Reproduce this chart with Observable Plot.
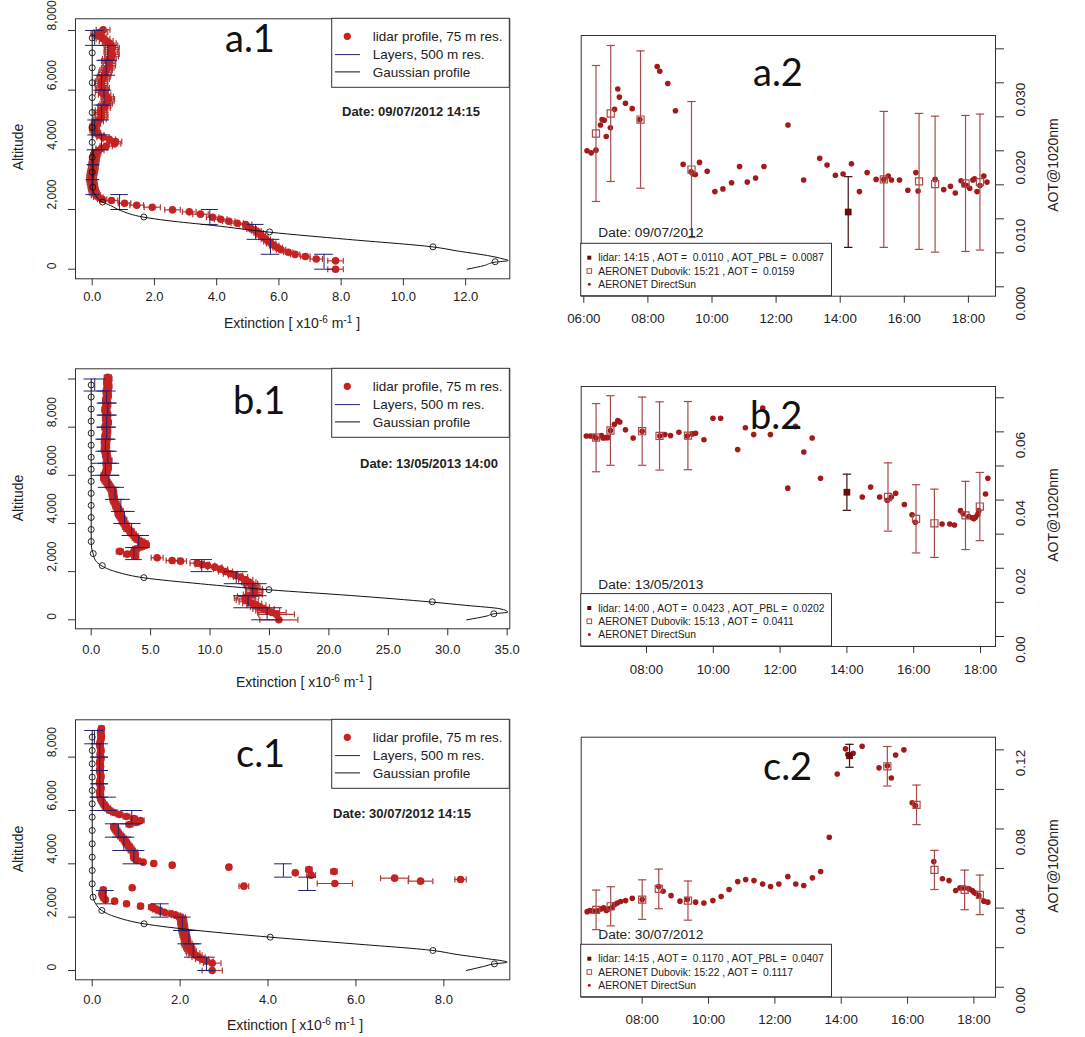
<!DOCTYPE html>
<html><head><meta charset="utf-8">
<script src="https://cdn.jsdelivr.net/npm/d3@7"></script>
<script src="https://cdn.jsdelivr.net/npm/@observablehq/plot@0.6"></script>
<style>
body{margin:0;background:#fff}
#root{position:relative;width:1085px;height:1037px;overflow:hidden;background:#fff;font-family:"Liberation Sans",Arial,sans-serif}
</style>
</head><body><div id="root"></div>
<script>
// ---------------- DATA ----------------
// lidar profiles: [altitude m, extinction x1e-6 m^-1, error]
const a1Lidar = [
[0,7.82,0.25],[280,7.82,0.25],[340,7.2,0.2],[425,6.85,0.15],[495,6.52,0.15],[570,6.3,0.15],[650,6.07,0.15],[720,5.96,0.15],[790,5.85,0.15],[860,5.75,0.15],[930,5.66,0.15],[1000,5.58,0.15],[1070,5.5,0.15],[1140,5.42,0.15],[1210,5.35,0.15],[1280,5.28,0.15],[1350,5.12,0.15],[1420,5.0,0.15],[1497,4.93,0.2],[1542,4.66,0.2],[1609,4.39,0.2],[1676,4.13,0.2],[1743,3.87,0.2],[1844,3.48,0.25],[1922,3.12,0.22],[1989,2.58,0.25],[2078,1.93,0.26],[2145,1.43,0.22],[2212,1.04,0.2],[2302,0.62,0.2],[2346,0.32,0.15],
[2410,0.2,0.15],[2480,0.12,0.15],[2550,0.08,0.15],[2625,0.05,0.15],[2700,0.03,0.15],[2775,0.02,0.15],[2850,0.01,0.15],[2925,-0.01,0.15],[3000,-0.02,0.15],[3075,-0.02,0.15],[3150,-0.01,0.15],[3225,0.0,0.15],[3300,0.02,0.15],[3375,0.03,0.15],[3450,0.04,0.15],[3525,0.05,0.15],[3600,0.06,0.15],[3675,0.07,0.15],[3750,0.08,0.15],[3825,0.1,0.15],[3900,0.13,0.15],[3975,0.2,0.18],[4050,0.3,0.18],[4125,0.45,0.2],[4200,0.72,0.2],[4275,0.75,0.2],[4350,0.55,0.2],[4425,0.35,0.2],[4500,0.2,0.18],[4575,0.12,0.15],[4650,0.08,0.15],[4725,0.06,0.15],[4800,0.08,0.15],[4875,0.12,0.15],[4950,0.18,0.18],[5025,0.25,0.2],[5100,0.3,0.2],[5175,0.3,0.2],[5250,0.26,0.2],[5325,0.3,0.2],[5400,0.38,0.2],[5475,0.4,0.2],[5550,0.45,0.2],[5625,0.5,0.2],[5700,0.52,0.2],[5775,0.48,0.2],[5850,0.4,0.2],[5925,0.3,0.2],[6000,0.32,0.2],[6075,0.35,0.2],[6150,0.3,0.2],[6225,0.28,0.2],[6300,0.3,0.2],[6375,0.35,0.2],[6450,0.38,0.2],[6525,0.4,0.2],[6600,0.42,0.2],[6675,0.45,0.2],[6750,0.5,0.2],[6825,0.55,0.2],[6900,0.55,0.2],[6975,0.5,0.2],[7050,0.55,0.22],[7125,0.62,0.22],[7200,0.65,0.22],[7275,0.6,0.22],[7350,0.62,0.22],[7425,0.65,0.22],[7500,0.6,0.22],[7575,0.55,0.22],[7650,0.45,0.22],[7725,0.35,0.22],[7800,0.25,0.22],[7875,0.18,0.22],[7950,0.28,0.22],[8025,0.35,0.22]
];
const b1Lidar = [
[0,15.79,1.6],[225,15.6,1.5],[300,15.2,1.2],[375,14.85,1.0],[450,14.5,0.9],[525,14.2,0.8],[600,13.9,0.8],[675,13.55,0.8],[750,13.25,0.8],[825,13.0,0.8],[900,12.95,0.9],[975,13.2,0.9],[1050,13.6,0.8],[1125,13.7,0.7],[1200,13.75,0.7],[1275,13.7,0.7],[1350,13.6,0.6],[1425,13.5,0.6],[1500,13.4,0.6],[1564,13.26,0.6],[1661,13.0,0.6],[1772,12.56,0.6],[1841,12.14,0.6],[1910,11.72,0.6],[2007,11.3,0.6],[2104,10.88,0.6],[2187,10.4,0.6],[2250,9.8,0.6],[2298,9.34,0.6],[2353,8.92,0.6],[2436,7.52,0.5],[2464,6.81,0.5],[2574,5.55,0.5],
[2650,3.7,0.3],[2727,3.03,0.3],[2800,3.6,0.3],[2840,2.41,0.3],[2875,3.7,0.3],[2950,3.8,0.3],[3025,4.2,0.3],[3100,4.6,0.3],[3175,4.5,0.3],[3250,4.2,0.3],[3325,3.9,0.3],[3400,3.75,0.3],[3475,3.65,0.3],[3550,3.5,0.3],[3625,3.35,0.3],[3700,3.3,0.3],[3775,3.05,0.3],[3850,2.95,0.3],[3925,2.9,0.3],[4000,2.8,0.3],[4075,2.65,0.3],[4150,2.7,0.3],[4225,2.55,0.3],[4300,2.45,0.3],[4375,2.35,0.3],[4450,2.3,0.3],[4525,2.4,0.3],[4600,2.25,0.3],[4675,2.15,0.3],[4750,2.1,0.3],[4825,2.05,0.3],[4900,1.95,0.3],[4975,1.9,0.3],[5050,1.9,0.3],[5125,1.85,0.3],[5200,1.8,0.3],[5275,1.85,0.3],[5350,1.8,0.3],[5425,1.7,0.3],[5500,1.6,0.3],[5575,1.5,0.3],[5650,1.4,0.3],[5725,1.3,0.3],[5800,1.2,0.3],[5875,1.1,0.3],[5950,1.1,0.3],[6025,1.15,0.3],[6100,1.25,0.3],
[6175,1.3,0.3],[6250,1.35,0.3],[6325,1.4,0.3],[6400,1.35,0.3],[6475,1.3,0.3],[6550,1.4,0.3],[6625,1.45,0.3],[6700,1.35,0.3],[6775,1.3,0.3],[6850,1.25,0.3],[6925,1.3,0.3],[7000,1.2,0.3],[7075,1.15,0.3],[7150,1.2,0.3],[7225,1.25,0.3],[7300,1.2,0.3],[7375,1.15,0.3],[7450,1.25,0.3],[7525,1.3,0.3],[7600,1.2,0.3],[7675,1.25,0.3],[7750,1.3,0.3],[7825,1.35,0.3],[7900,1.3,0.3],[7975,1.2,0.3],[8050,1.25,0.3],[8125,1.35,0.3],[8200,1.4,0.3],[8275,1.3,0.3],[8350,1.25,0.3],[8425,1.3,0.3],[8500,1.35,0.3],[8575,1.3,0.3],[8650,1.25,0.3],[8725,1.2,0.3],[8800,1.25,0.3],[8875,1.3,0.3],[8950,1.35,0.3],[9025,1.3,0.3],[9100,1.25,0.3],[9175,1.3,0.3],[9250,1.35,0.3],[9325,1.4,0.3],[9400,1.35,0.3],[9475,1.3,0.3],[9550,1.35,0.3],[9625,1.4,0.3],[9700,1.45,0.3],[9775,1.4,0.3],[9850,1.35,0.3],[9925,1.4,0.3],[10000,1.45,0.3],[10075,1.4,0.3]
];
const c1Lidar = [
[0,2.73,0.23],[275,2.73,0.2],[350,2.6,0.15],[425,2.5,0.15],[500,2.42,0.15],[575,2.35,0.15],[650,2.3,0.15],[725,2.25,0.12],[800,2.22,0.12],[875,2.2,0.12],[950,2.17,0.12],[1025,2.15,0.12],[1100,2.14,0.1],[1175,2.13,0.1],[1250,2.12,0.1],[1325,2.1,0.1],[1400,2.1,0.1],[1475,2.08,0.1],[1550,2.07,0.1],[1625,2.07,0.1],[1700,2.06,0.1],[1775,2.05,0.1],[1850,2.05,0.1],[1925,2.04,0.1],[2000,2.02,0.1],[2075,1.9,0.1],[2125,1.8,0.1],[2175,1.65,0.1],[2225,1.55,0.1],[2275,1.48,0.1],[2325,1.42,0.08],[2375,1.36,0.08],[2412,1.1,0.06],[2500,0.78,0.05],[2600,0.51,0.05],[2650,0.3,0.05],[2725,0.26,0.06],[2800,0.24,0.06],[2875,0.22,0.06],[2950,0.25,0.06],[3025,0.25,0.06],[3100,0.91,0.05],
[3162,3.45,0.11],[3262,5.52,0.4],[3350,7.47,0.28],[3412,8.38,0.13],[3462,6.88,0.32],[3575,4.98,0.1],[3662,4.62,0.05],[3712,5.5,0.07],[3787,4.93,0.07],[3875,3.11,0.05],[3950,1.82,0.05],[4012,1.4,0.05],[4062,1.16,0.05],
[4125,1.02,0.08],[4200,0.97,0.08],[4275,0.95,0.08],[4350,0.97,0.08],[4425,0.95,0.08],[4500,0.9,0.08],[4575,0.87,0.08],[4650,0.84,0.08],[4725,0.8,0.08],[4800,0.77,0.08],[4875,0.74,0.08],[4950,0.7,0.08],[5025,0.66,0.08],[5100,0.62,0.08],[5175,0.58,0.08],[5250,0.55,0.08],[5325,0.52,0.08],[5400,0.5,0.08],[5475,0.85,0.08],[5550,1.0,0.08],[5625,1.1,0.08],[5700,0.95,0.08],[5775,0.78,0.08],[5850,0.62,0.08],[5925,0.5,0.08],[6000,0.4,0.07],[6075,0.35,0.07],[6150,0.3,0.07],[6225,0.27,0.07],[6300,0.24,0.06],[6375,0.21,0.06],[6450,0.19,0.06],
[6525,0.18,0.06],[6600,0.19,0.06],[6675,0.17,0.06],[6750,0.18,0.06],[6825,0.2,0.06],[6900,0.19,0.06],[6975,0.18,0.06],[7050,0.17,0.06],[7125,0.18,0.06],[7200,0.19,0.06],[7275,0.2,0.06],[7350,0.19,0.06],[7425,0.18,0.06],[7500,0.17,0.06],[7575,0.18,0.06],[7650,0.19,0.06],[7725,0.18,0.06],[7800,0.17,0.06],[7875,0.18,0.06],[7950,0.2,0.06],[8025,0.19,0.06],[8100,0.18,0.06],[8175,0.19,0.06],[8250,0.2,0.06],[8325,0.19,0.06],[8400,0.18,0.06],[8475,0.17,0.06],[8550,0.18,0.06],[8625,0.19,0.06],[8700,0.2,0.06],[8775,0.21,0.06],[8850,0.2,0.06],[8925,0.19,0.06],[9000,0.2,0.06],[9075,0.21,0.06]
];
// 500 m layers: [bottom altitude, extinction, half-width of bar]
const a1Layers = [[0,7.45,0.3],[500,5.73,0.3],[1000,5.25,0.27],[1500,3.78,0.27],[2000,0.88,0.28],[2500,0.02,0.22],[3000,0.04,0.2],[3500,0.04,0.2],[4000,0.3,0.25],[4500,0.08,0.22],[5000,0.3,0.25],[5500,0.38,0.25],[6000,0.3,0.25],[6500,0.45,0.3],[7000,0.5,0.3],[7500,0.08,0.3]];
const b1Layers = [[0,14.8,1.3],[500,13.2,1.2],[1000,13.6,1.2],[1500,12.2,1.0],[2000,9.3,0.9],[2500,3.6,0.7],[3000,4.0,0.9],[3500,3.4,0.8],[4000,2.8,0.9],[4500,2.5,0.8],[5000,2.0,0.8],[5500,1.5,0.9],[6000,1.2,1.2],[6500,1.4,0.8],[7000,1.2,0.8],[7500,1.3,0.8],[8000,1.3,0.8],[8500,1.4,0.8],[9000,1.3,0.8],[9500,0.3,0.9]];
const c1Layers = [[0,2.6,0.2],[500,2.3,0.2],[1000,2.2,0.25],[1500,2.05,0.2],[2000,1.55,0.2],[2500,0.3,0.2],[3000,4.9,0.2],[3500,4.35,0.2],[4000,0.95,0.25],[4500,0.72,0.25],[5000,0.6,0.3],[5500,0.9,0.25],[6000,0.25,0.3],[6500,0.17,0.2],[7000,0.17,0.2],[7500,0.17,0.2],[8000,0.17,0.2],[8500,0.05,0.22]];
// Gaussian profile curve [altitude, extinction] and its markers
const a1Gauss = [[0,12.05],[123,12.6],[235,12.94],[290,13.37],[346,13.2],[458,12.7],[600,11.8],[746,10.95],[1000,8.2],[1240,5.7],[1464,3.9],[1631,2.4],[1743,1.66],[1966,0.91],[2134,0.59],[2250,0.33],[2469,0.11],[2637,0.02],[2750,0],[3000,0],[8000,0]];
const a1GaussPts = [[250,12.95],[750,10.95],[1250,5.7],[1750,1.66],[2250,0.33],[2750,0.02],[3250,0],[3750,0],[4250,0],[4750,0],[5250,0],[5750,0],[6250,0],[6750,0],[7250,0],[7750,0]];
const b1Gauss = [[0,31.6],[160,33.3],[249,33.88],[318,35.05],[457,34.4],[600,31.5],[734,28.7],[1010,21.8],[1246,14.95],[1495,9.2],[1744,4.43],[1979,2.19],[2228,0.93],[2464,0.36],[2740,0.17],[3000,0.03],[3250,0],[10000,0]];
const b1GaussPts = [[250,33.88],[750,28.7],[1250,14.95],[1750,4.43],[2250,0.93],[2750,0.17],[3250,0],[3750,0],[4250,0],[4750,0],[5250,0],[5750,0],[6250,0],[6750,0],[7250,0],[7750,0],[8250,0],[8750,0],[9250,0],[9750,0]];
const c1Gauss = [[0,8.51],[150,8.9],[250,9.15],[312,9.44],[450,8.95],[600,8.3],[750,7.75],[1000,5.95],[1250,4.05],[1500,2.4],[1750,1.18],[2000,0.55],[2250,0.22],[2500,0.08],[2750,0.02],[3000,0],[9000,0]];
const c1GaussPts = [[250,9.15],[750,7.75],[1250,4.05],[1750,1.18],[2250,0.22],[2750,0.02],[3250,0],[3750,0],[4250,0],[4750,0],[5250,0],[5750,0],[6250,0],[6750,0],[7250,0],[7750,0],[8250,0],[8750,0]];

// AERONET DirectSun: [hour of day, AOT@1020nm]
const a2Sun = [[6.10,0.0200],[6.23,0.0197],[6.38,0.0201],[6.52,0.0238],[6.57,0.0246],[6.64,0.0245],[6.70,0.0221],[6.83,0.0234],[6.96,0.0261],[7.06,0.0291],[7.11,0.0279],[7.30,0.0270],[7.51,0.0262],[7.75,0.0246],[8.29,0.0324],[8.37,0.0317],[8.62,0.0299],[8.86,0.0259],[9.10,0.0180],[9.35,0.0169],[9.41,0.0166],[9.48,0.0165],[9.61,0.0183],[9.85,0.0170],[10.09,0.0140],[10.34,0.0144],[10.61,0.0153],[10.86,0.0177],[11.10,0.0154],[11.36,0.0160],[11.62,0.0177],[12.37,0.0238],[12.86,0.0157],[13.36,0.0189],[13.59,0.0179],[13.85,0.0164],[14.09,0.0166],[14.35,0.0181],[14.60,0.0140],[14.84,0.0168],[15.12,0.0158],[15.36,0.0158],[15.50,0.0163],[15.60,0.0157],[15.85,0.0157],[16.11,0.0142],[16.36,0.0168],[16.43,0.0141],[16.96,0.0158],[17.23,0.0143],[17.44,0.0148],[17.59,0.0138],[17.77,0.0156],[17.86,0.0150],[17.94,0.0149],[18.04,0.0145],[18.14,0.0157],[18.19,0.0159],[18.27,0.0140],[18.36,0.0149],[18.48,0.0163],[18.58,0.0154]];
const b2Sun = [[6.20,0.0588],[6.32,0.0588],[6.42,0.0587],[6.49,0.0582],[6.65,0.0589],[6.70,0.0582],[6.77,0.0583],[6.84,0.0583],[6.92,0.0604],[7.04,0.0622],[7.14,0.0633],[7.20,0.0629],[7.37,0.0606],[7.60,0.0582],[7.87,0.0602],[8.40,0.0588],[8.55,0.0592],[8.72,0.0589],[8.97,0.0599],[9.22,0.0588],[9.37,0.0594],[9.47,0.0596],[9.72,0.0577],[9.99,0.0640],[10.22,0.0640],[10.73,0.0548],[10.96,0.0612],[11.21,0.0592],[11.48,0.0670],[11.71,0.0592],[12.23,0.0435],[12.46,0.0616],[12.71,0.0541],[12.96,0.0582],[13.21,0.0464],[14.46,0.0409],[14.71,0.0438],[14.98,0.0409],[15.21,0.0399],[15.33,0.0409],[15.46,0.0420],[15.72,0.0387],[15.95,0.0357],[16.05,0.0335],[16.85,0.0330],[17.08,0.0330],[17.22,0.0327],[17.40,0.0369],[17.48,0.0360],[17.65,0.0352],[17.75,0.0348],[17.80,0.0345],[17.85,0.0350],[17.92,0.0358],[17.95,0.0369],[18.15,0.0418],[18.22,0.0464]];
const c2Sun = [[6.34,0.0382],[6.42,0.0388],[6.49,0.0385],[6.56,0.0384],[6.64,0.0386],[6.76,0.0396],[6.84,0.0401],[6.92,0.0388],[6.99,0.0396],[7.10,0.0404],[7.17,0.0418],[7.25,0.0426],[7.35,0.0433],[7.50,0.0438],[7.70,0.0450],[8.00,0.0443],[8.50,0.0509],[8.63,0.0485],[8.87,0.0463],[9.14,0.0435],[9.36,0.0443],[9.61,0.0430],[9.86,0.0426],[10.13,0.0438],[10.38,0.0458],[10.62,0.0494],[10.88,0.0534],[11.12,0.0544],[11.37,0.0539],[11.63,0.0522],[11.87,0.0509],[12.12,0.0522],[12.39,0.0559],[12.63,0.0522],[12.87,0.0514],[13.13,0.0553],[13.38,0.0585],[13.64,0.0758],[13.88,0.1078],[14.13,0.1205],[14.20,0.1176],[14.36,0.1183],[14.63,0.1218],[15.14,0.1109],[15.39,0.1120],[15.51,0.1058],[15.64,0.1174],[15.89,0.1200],[16.14,0.0932],[16.24,0.0918],[16.79,0.0635],[17.05,0.0548],[17.25,0.0539],[17.45,0.0489],[17.58,0.0502],[17.70,0.0502],[17.85,0.0497],[17.95,0.0489],[18.00,0.0480],[18.05,0.0475],[18.15,0.0463],[18.30,0.0435],[18.42,0.0430]];
// AERONET Dubovik inversions: [hour, AOT, error]
const a2Dub = [[6.38,0.02255,0.0100],[6.84,0.02549,0.0100],[7.77,0.0246,0.0101],[9.36,0.01725,0.0100],[15.36,0.0158,0.0100],[16.46,0.0155,0.0100],[16.96,0.0151,0.0100],[17.91,0.0152,0.0100],[18.36,0.0154,0.0100]];
const b2Dub = [[6.49,0.0583,0.0100],[6.92,0.0604,0.0102],[7.87,0.0602,0.0100],[8.39,0.0588,0.0100],[9.24,0.0589,0.0100],[15.23,0.0409,0.0100],[16.07,0.0345,0.0100],[16.62,0.0332,0.0100],[17.55,0.0355,0.0100],[17.98,0.0381,0.0100]];
const c2Dub = [[6.61,0.0391,0.0100],[7.05,0.0409,0.0099],[8.00,0.0443,0.0100],[8.50,0.0497,0.0100],[9.38,0.0438,0.0099],[15.39,0.1117,0.0100],[16.27,0.0922,0.0100],[16.81,0.0593,0.0099],[17.72,0.0492,0.0100],[18.18,0.0467,0.0100]];
// lidar AOT: [hour, AOT, error]
const a2Lid = [[14.25,0.0110,0.0052]];
const b2Lid = [[14.00,0.0423,0.0053]];
const c2Lid = [[14.25,0.1170,0.0058]];

// ticks & labels
const a1XTicks = [0,2,4,6,8,10,12];
const b1XTicks = [0,5,10,15,20,25,30,35];
const c1XTicks = [0,2,4,6,8];
const a1YTicks = [0,2000,4000,6000,8000];
const b1YTicks = [0,2000,4000,6000,8000,10000];
const b1YLabels = [0,2000,4000,6000,8000];
const c1YTicks = [0,2000,4000,6000,8000];
const a2TimeTicks = [6,8,10,12,14,16,18];
const a2TimeLabels = ["06:00","08:00","10:00","12:00","14:00","16:00","18:00"];
const bcTimeTicks = [8,10,12,14,16,18];
const bcTimeLabels = ["08:00","10:00","12:00","14:00","16:00","18:00"];
const a2YTicks = [0,0.005,0.010,0.015,0.020,0.025,0.030,0.035];
const a2YLabels = [0,0.010,0.020,0.030];
const b2YTicks = [0,0.01,0.02,0.03,0.04,0.05,0.06,0.07];
const b2YLabels = [0,0.02,0.04,0.06];
const c2YTicks = [0,0.02,0.04,0.06,0.08,0.10,0.12];
const c2YLabels = [0,0.04,0.08,0.12];

const profileLegend = ["lidar profile, 75 m res.", "Layers, 500 m res.", "Gaussian profile"];
const a2Legend = ["lidar: 14:15 , AOT =  0.0110 , AOT_PBL =  0.0087", "AERONET Dubovik: 15:21 , AOT =  0.0159", "AERONET DirectSun"];
const b2Legend = ["lidar: 14:00 , AOT =  0.0423 , AOT_PBL =  0.0202", "AERONET Dubovik: 15:13 , AOT =  0.0411", "AERONET DirectSun"];
const c2Legend = ["lidar: 14:15 , AOT =  0.1170 , AOT_PBL =  0.0407", "AERONET Dubovik: 15:22 , AOT =  0.1117", "AERONET DirectSun"];
const profileDates = ["Date: 09/07/2012 14:15", "Date: 13/05/2013 14:00", "Date: 30/07/2012 14:15"];
const seriesDates = ["Date: 09/07/2012", "Date: 13/05/2013", "Date: 30/07/2012"];
const panelNames = ["a.1","a.2","b.1","b.2","c.1","c.2"];

// ---------------- RENDER ----------------
const W = 1085, H = 1037;
const FONT = "'Liberation Sans', Arial, sans-serif";
const COL = {dot:"#c62222", bar:"#b03838", navy:"#20206e", sun:"#a31a1a", dub:"#a84a4a", lid:"#6a0a0a", lidBar:"#3a1010", axis:"#333", text:"#222"};
const vcap = {draw(ctx, size){const r=Math.sqrt(size/Math.PI); ctx.moveTo(0,-r); ctx.lineTo(0,r);}};
const hcap = {draw(ctx, size){const r=Math.sqrt(size/Math.PI); ctx.moveTo(-r,0); ctx.lineTo(r,0);}};
const root = document.getElementById("root");
const svgStyle = {position:"absolute", left:"0px", top:"0px", background:"transparent", overflow:"visible", fontFamily:FONT, maxWidth:"none"};

function profile(p){
  const lid = p.lidar.map(([alt,ext,err])=>({alt,ext,lo:ext-err,hi:ext+err}));
  const lay = p.layers.map(([bot,v,e])=>({bot,top:bot+500,v,lo:v-e,hi:v+e}));
  const gl = p.gauss.map(([alt,v])=>({alt,v}));
  const gp = p.gaussPts.map(([alt,v])=>({alt,v}));
  return Plot.plot({
    width:W, height:H,
    marginLeft:p.frame[0], marginRight:W-p.frame[1], marginTop:p.frame[2], marginBottom:H-p.frame[3],
    x:{domain:p.xDomain, label:null}, y:{domain:p.yDomain, label:null},
    style:svgStyle,
    marks:[
      Plot.ruleY(lid,{y:"alt",x1:"lo",x2:"hi",stroke:COL.bar,strokeWidth:1.2}),
      Plot.dot(lid,{x:"lo",y:"alt",symbol:vcap,r:3,stroke:COL.bar,fill:"none",strokeWidth:1.2}),
      Plot.dot(lid,{x:"hi",y:"alt",symbol:vcap,r:3,stroke:COL.bar,fill:"none",strokeWidth:1.2}),
      Plot.dot(lid,{x:"ext",y:"alt",r:3.8,fill:COL.dot,stroke:"none"}),
      Plot.ruleX(lay,{x:"v",y1:"bot",y2:"top",stroke:COL.navy,strokeWidth:1}),
      Plot.ruleY(lay,{y:"bot",x1:"lo",x2:"hi",stroke:COL.navy,strokeWidth:1}),
      Plot.ruleY(lay,{y:"top",x1:"lo",x2:"hi",stroke:COL.navy,strokeWidth:1}),
      Plot.line(gl,{x:"v",y:"alt",stroke:"#111",strokeWidth:1,curve:"monotone-y"}),
      Plot.dot(gp,{x:"v",y:"alt",r:3,stroke:"#111",fill:"none",strokeWidth:0.9}),
      Plot.frame({stroke:COL.axis}),
      Plot.axisX({ticks:p.xTicks,tickSize:7,tickFormat:()=>"",label:null,color:COL.axis}),
      Plot.axisY({anchor:"left",ticks:p.yTicks,tickSize:7,tickFormat:()=>"",label:null,color:COL.axis}),
      Plot.text(p.xTicks,{x:d=>d,frameAnchor:"bottom",dy:p.xLabelDy,text:d=>d3.format(".1f")(d),fontSize:13,fill:COL.text}),
      Plot.text(p.yLabels,{y:d=>d,frameAnchor:"left",dx:-23.3,rotate:-90,text:d=>d3.format(",")(d),fontSize:12,fill:COL.text})
    ]
  });
}

function series(p){
  const sun = p.sun.map(([t,v])=>({t,v}));
  const dub = p.dub.map(([t,v,e])=>({t,v,lo:v-e,hi:v+e}));
  const lid = p.lid.map(([t,v,e])=>({t,v,lo:v-e,hi:v+e}));
  return Plot.plot({
    width:W, height:H,
    marginLeft:p.frame[0], marginRight:W-p.frame[1], marginTop:p.frame[2], marginBottom:H-p.frame[3],
    x:{domain:p.xDomain, label:null}, y:{domain:p.yDomain, label:null},
    style:svgStyle,
    marks:[
      Plot.dot(sun,{x:"t",y:"v",r:2.8,fill:COL.sun,stroke:"none"}),
      Plot.ruleX(dub,{x:"t",y1:"lo",y2:"hi",stroke:COL.dub,strokeWidth:1.2}),
      Plot.dot(dub,{x:"t",y:"lo",symbol:hcap,r:4.2,stroke:COL.dub,fill:"none",strokeWidth:1.2}),
      Plot.dot(dub,{x:"t",y:"hi",symbol:hcap,r:4.2,stroke:COL.dub,fill:"none",strokeWidth:1.2}),
      Plot.dot(dub,{x:"t",y:"v",symbol:"square",r:4,stroke:COL.dub,fill:"none",strokeWidth:1.2}),
      Plot.ruleX(lid,{x:"t",y1:"lo",y2:"hi",stroke:COL.lidBar,strokeWidth:1.2}),
      Plot.dot(lid,{x:"t",y:"lo",symbol:hcap,r:4.2,stroke:COL.lidBar,fill:"none",strokeWidth:1.2}),
      Plot.dot(lid,{x:"t",y:"hi",symbol:hcap,r:4.2,stroke:COL.lidBar,fill:"none",strokeWidth:1.2}),
      Plot.dot(lid,{x:"t",y:"v",symbol:"square",r:3.8,fill:COL.lid,stroke:"none"}),
      Plot.frame({stroke:COL.axis}),
      Plot.axisX({ticks:p.xTicks,tickSize:7,tickFormat:()=>"",label:null,color:COL.axis}),
      Plot.axisY({anchor:"right",ticks:p.yTicks,tickSize:8,tickFormat:()=>"",label:null,color:COL.axis}),
      Plot.text(p.xTicks,{x:d=>d,frameAnchor:"bottom",dy:27,text:(d,i)=>p.xLabels[i],fontSize:13.3,fill:COL.text}),
      Plot.text(p.yLabels,{y:d=>d,frameAnchor:"right",dx:25,rotate:-90,text:d=>d3.format(p.fmt)(d),fontSize:13.5,fill:COL.text})
    ]
  });
}

const panels = [
  profile({lidar:a1Lidar,layers:a1Layers,gauss:a1Gauss,gaussPts:a1GaussPts,frame:[75,509.3,18.3,278.3],xDomain:[-0.537,13.42],yDomain:[-322,8391],xTicks:a1XTicks,yTicks:a1YTicks,yLabels:a1YTicks,xLabelDy:21.7}),
  profile({lidar:b1Lidar,layers:b1Layers,gauss:b1Gauss,gaussPts:b1GaussPts,frame:[75,509.3,368.3,628.3],xDomain:[-1.32,35.22],yDomain:[-374,10423],xTicks:b1XTicks,yTicks:b1YTicks,yLabels:b1YLabels,xLabelDy:25}),
  profile({lidar:c1Lidar,layers:c1Layers,gauss:c1Gauss,gaussPts:c1GaussPts,frame:[75,509.3,719.3,979.3],xDomain:[-0.38,9.5],yDomain:[-349,9400],xTicks:c1XTicks,yTicks:c1YTicks,yLabels:c1YTicks,xLabelDy:24}),
  series({sun:a2Sun,dub:a2Dub,lid:a2Lid,frame:[580.7,995,35,295.7],xDomain:[5.919,18.845],yDomain:[-0.00138,0.03696],xTicks:a2TimeTicks,xLabels:a2TimeLabels,yTicks:a2YTicks,yLabels:a2YLabels,fmt:".3f"}),
  series({sun:b2Sun,dub:b2Dub,lid:b2Lid,frame:[580.7,995,386,646],xDomain:[6.045,18.449],yDomain:[-0.00293,0.0733],xTicks:bcTimeTicks,xLabels:bcTimeLabels,yTicks:b2YTicks,yLabels:b2YLabels,fmt:".2f"}),
  series({sun:c2Sun,dub:c2Dub,lid:c2Lid,frame:[580.7,995,736.7,996.7],xDomain:[6.161,18.651],yDomain:[-0.00505,0.1264],xTicks:bcTimeTicks,xLabels:bcTimeLabels,yTicks:c2YTicks,yLabels:c2YLabels,fmt:".2f"})
];
panels.forEach(s=>root.appendChild(s));

// ---------------- annotations, legends, titles ----------------
const ov = d3.select(root).append("svg").attr("width",W).attr("height",H)
  .style("position","absolute").style("left","0px").style("top","0px").style("font-family",FONT).style("overflow","visible");

function text(x,y,s,o={}){
  const t = ov.append("text").attr("x",x).attr("y",y).text(s)
    .style("font-size",(o.size||13)+"px").attr("fill",o.fill||COL.text)
    .attr("text-anchor",o.anchor||"start").style("white-space","pre");
  if(o.dy) t.attr("dy",o.dy);
  if(o.weight) t.style("font-weight",o.weight);
  if(o.family) t.style("font-family",o.family);
  if(o.rotate) t.attr("transform",`rotate(${o.rotate},${x},${y})`);
  return t;
}

// profile legends
[18.3,368.3,719.3].forEach(top=>{
  ov.append("rect").attr("x",331.7).attr("y",top).attr("width",177.6).attr("height",69).attr("fill","#fff").attr("stroke",COL.axis);
  ov.append("circle").attr("cx",347.3).attr("cy",top+18).attr("r",3.6).attr("fill",COL.dot);
  ov.append("line").attr("x1",335).attr("x2",360).attr("y1",top+36.3).attr("y2",top+36.3).attr("stroke",COL.navy);
  ov.append("line").attr("x1",335).attr("x2",360).attr("y1",top+53.6).attr("y2",top+53.6).attr("stroke","#111");
  profileLegend.forEach((s,i)=>text(372.7,top+[18,36.3,53.6][i],s,{size:13.5,dy:"0.35em"}));
});

// series legends
[[295.7,a2Legend],[646,b2Legend],[996.7,c2Legend]].forEach(([bot,lab])=>{
  ov.append("rect").attr("x",580.7).attr("y",bot-52.4).attr("width",250.8).attr("height",52.4).attr("fill","#fff").attr("stroke",COL.axis);
  ov.append("rect").attr("x",587.3).attr("y",bot-40).attr("width",4).attr("height",4).attr("fill",COL.lid);
  ov.append("rect").attr("x",587).attr("y",bot-27).attr("width",4.6).attr("height",4.6).attr("fill","none").attr("stroke",COL.dub).attr("stroke-width",1);
  ov.append("circle").attr("cx",589.3).attr("cy",bot-11.4).attr("r",1.5).attr("fill",COL.sun);
  lab.forEach((s,i)=>text(598.3,bot-[38,24.7,11.4][i],s,{size:10.3,dy:"0.35em"}));
});

// dates
text(342,116,profileDates[0],{size:13,weight:"bold"});
text(360,468,profileDates[1],{size:13,weight:"bold"});
text(333,818,profileDates[2],{size:13,weight:"bold"});
text(598.3,237,seriesDates[0],{size:13.7});
text(598.3,588.5,seriesDates[1],{size:13.7});
text(598.3,939,seriesDates[2],{size:13.7});

// panel names
[[225,51.7],[753,86],[233,414],[750,429.3],[236,767],[763,780]].forEach(([x,y],i)=>
  text(x,y,panelNames[i],{size:38,fill:"#111",family:"Lato, 'Open Sans', sans-serif"}));

// axis titles
[147,498,849].forEach(cy=>text(18,cy,"Altitude",{size:14,anchor:"middle",dy:"0.35em",rotate:-90}));
[165,515,866].forEach(cy=>text(1053,cy,"AOT@1020nm",{size:14,anchor:"middle",dy:"0.35em",rotate:-90}));
[[292,323],[304,681.7],[295,1025]].forEach(([cx,cy])=>{
  const t = ov.append("text").attr("x",cx).attr("y",cy).attr("dy","0.35em").attr("text-anchor","middle")
    .style("font-size","14px").attr("fill",COL.text);
  t.append("tspan").text("Extinction [ x10");
  t.append("tspan").attr("dy",-5).style("font-size","10px").text("-6");
  t.append("tspan").attr("dy",5).text(" m");
  t.append("tspan").attr("dy",-5).style("font-size","10px").text("-1");
  t.append("tspan").attr("dy",5).text(" ]");
});
</script></body></html>
